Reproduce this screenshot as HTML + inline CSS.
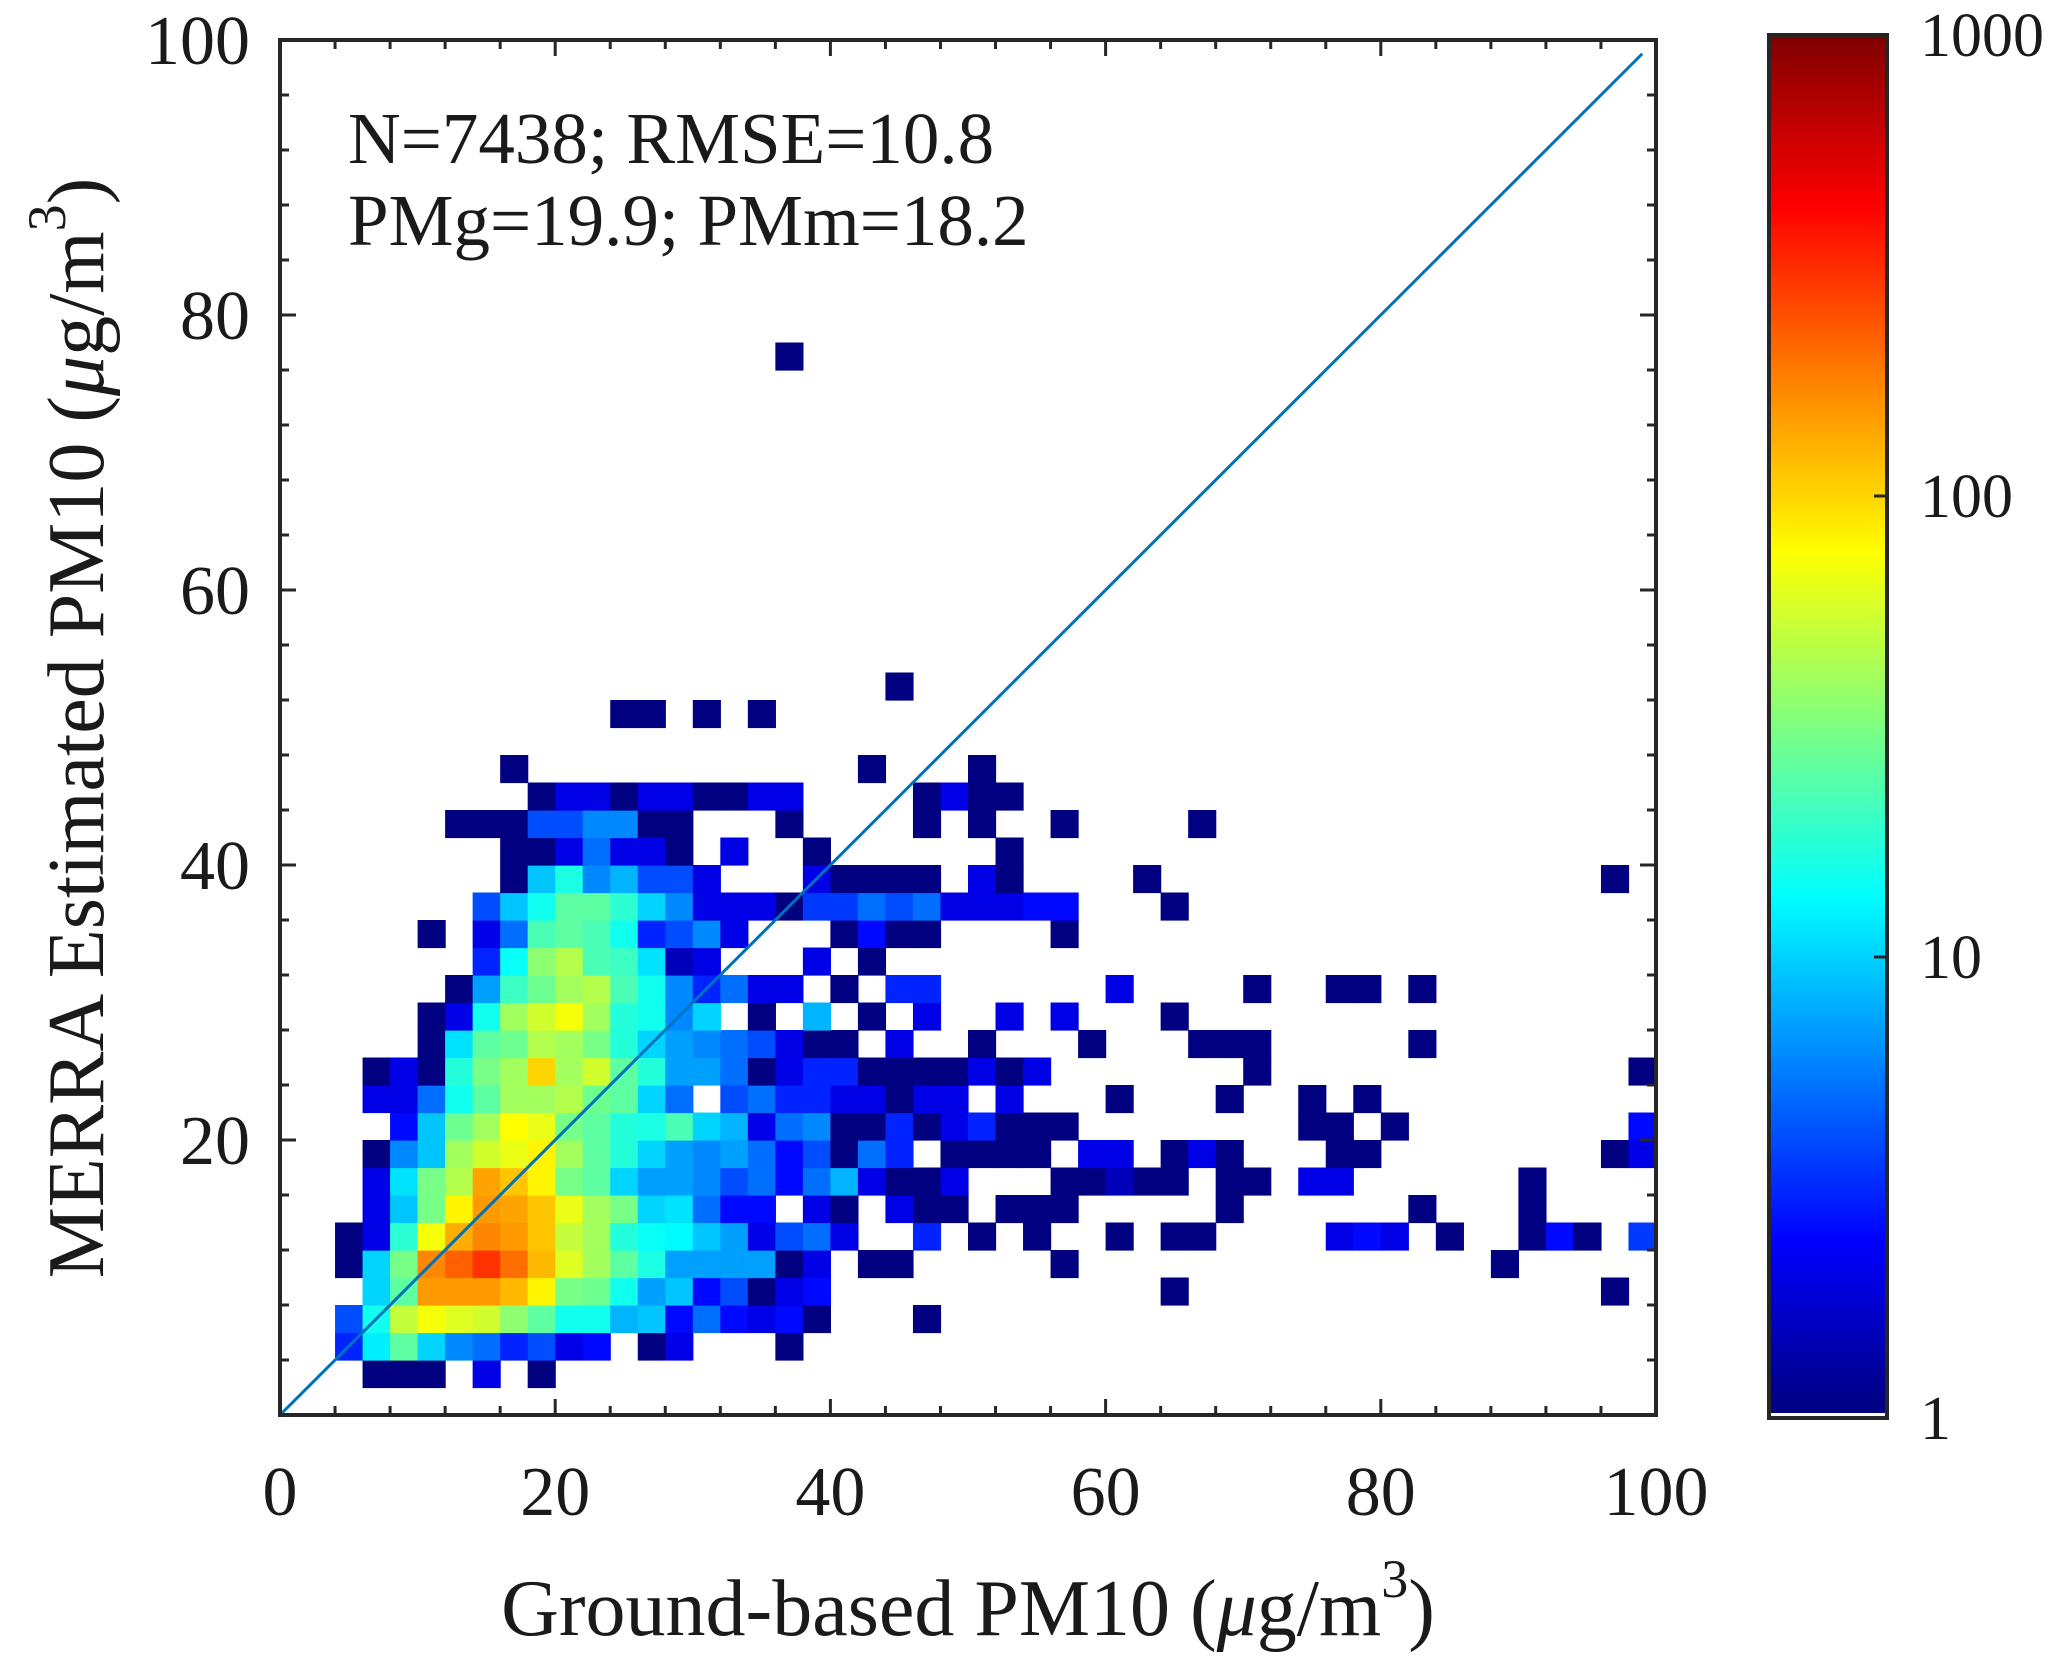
<!DOCTYPE html>
<html><head><meta charset="utf-8"><title>MERRA vs Ground PM10 density</title>
<style>
html,body{margin:0;padding:0;background:#fff;}
svg{display:block;}
text{font-family:"Liberation Serif","Times New Roman",serif;fill:#1a1a1a;}
</style></head>
<body>
<svg id="chart" width="2067" height="1668" viewBox="0 0 2067 1668" xmlns="http://www.w3.org/2000/svg">
<defs><linearGradient id="jetGrad" x1="0" y1="1" x2="0" y2="0"></linearGradient></defs>
<g id="cells"></g>
<g id="axes"></g>
<g id="cbar"></g>
<text x="348" y="163" font-size="73">N=7438; RMSE=10.8</text>
<text x="348" y="245" font-size="73">PMg=19.9; PMm=18.2</text>
<text x="968" y="1635" font-size="80" text-anchor="middle">Ground-based PM10 (<tspan font-style="italic">μ</tspan>g/m<tspan font-size="54" dy="-38">3</tspan><tspan dy="38">)</tspan></text>
<text transform="translate(103,728) rotate(-90)" font-size="80" text-anchor="middle">MERRA Estimated PM10 (<tspan font-style="italic">μ</tspan>g/m<tspan font-size="54" dy="-38">3</tspan><tspan dy="38">)</tspan></text>
</svg>
<script>
const binWidth = 2;
const rowY = [1,2,3,4,5,6,7,8,9,10,11,12,13,14,15,16,17,18,19,20,21,22,23,25,26,38];
const rowCols = [
[3,4,5,7,9],
[2,3,4,5,6,7,8,9,10,11,13,14,18],
[2,3,4,5,6,7,8,9,10,11,12,13,14,15,16,17,18,19,23],
[3,4,5,6,7,8,9,10,11,12,13,14,15,16,17,18,19,32,48],
[2,3,4,5,6,7,8,9,10,11,12,13,14,15,16,17,18,19,21,22,28,44],
[2,3,4,5,6,7,8,9,10,11,12,13,14,15,16,17,18,19,20,23,25,27,30,32,33,38,39,40,42,45,46,47,49],
[3,4,5,6,7,8,9,10,11,12,13,14,15,16,17,19,20,22,23,24,26,27,28,34,41,45],
[3,4,5,6,7,8,9,10,11,12,13,14,15,16,17,18,19,20,21,22,23,24,28,29,30,31,32,34,35,37,38,45],
[3,4,5,6,7,8,9,10,11,12,13,14,15,16,17,18,19,20,21,22,24,25,26,27,29,30,32,33,34,38,39,48,49],
[4,5,6,7,8,9,10,11,12,13,14,15,16,17,18,19,20,21,22,23,24,25,26,27,28,37,38,40,49],
[3,4,5,6,7,8,9,10,11,12,13,14,16,17,18,19,20,21,22,23,24,26,30,34,37,39],
[3,4,5,6,7,8,9,10,11,12,13,14,15,16,17,18,19,20,21,22,23,24,25,26,27,35,49],
[5,6,7,8,9,10,11,12,13,14,15,16,17,18,19,20,22,25,29,33,34,35,41],
[5,6,7,8,9,10,11,12,13,14,15,17,19,21,23,26,28,32],
[6,7,8,9,10,11,12,13,14,15,16,17,18,20,22,23,30,35,38,39,41],
[7,8,9,10,11,12,13,14,15,19,21],
[5,7,8,9,10,11,12,13,14,15,16,20,21,22,23,28],
[7,8,9,10,11,12,13,14,15,16,17,18,19,20,21,22,23,24,25,26,27,28,32],
[8,9,10,11,12,13,14,15,19,20,21,22,23,25,26,31,48],
[8,9,10,11,12,13,14,16,19,26],
[6,7,8,9,10,11,12,13,14,18,23,25,28,33],
[9,10,11,12,13,14,15,16,17,18,23,24,25,26],
[8,21,25],
[12,13,15,17],
[22],
[18]
];
const rowCounts = [
[1,1,1,2,1],
[3,12,25,10,6,5,3,4,2,2.5,1,2,1],
[4,15,50,70,60,55,35,25,15,15,8,9,2.5,5,2.5,2,2.5,1,1],
[10,25,150,150,150,120,80,30,28,15,7,9,2.5,4,1,2,2.5,1,1],
[1,10,30,170,220,300,200,120,60,40,25,16,7,7,7,7,1,2,1,1,1,1],
[1,2,18,70,130,170,150,110,50,40,17,14,13,9,7,2,4,5,2,3,1,1,1,1,1,2,2.5,2,1,1,2.5,1,3.5],
[2,9,30,80,150,140,110,65,40,30,10,11,5,2.5,2.5,2,1,2,1,1,1,1,1,1,1,1],
[2,11,30,45,140,110,80,30,25,10,7,7,6,4,5,2.5,5,8,2,1,1,2,1,1,1.5,1,1,1,1,2,2,1],
[1,6,9,40,55,65,80,40,25,17,10,7,6,7,5,2.5,4,1,5,3,1,1,1,1,2,2,1,2,1,1,1,1,2],
[2.5,9,28,40,75,65,30,25,17,16,22,10,8,2,5,6,1,1,3,1,2,3,1,1,1,1,1,1,2.5],
[2,2,5,15,25,40,40,45,28,25,10,5,4,5,3,3,2,2,1,2,2,2,1,1,1,1],
[1,2,1,17,30,40,100,40,55,25,17,7,7,5,1,2,3,3,1,1,1,1,2,1,2,1,1],
[1,11,25,28,45,40,30,17,10,7,6,5,4,2,1,1,2,1,1,1,1,1,1],
[1,2,15,40,55,70,40,17,15,6,10,1,8,1,2,2,2,1],
[1,7,20,28,40,45,22,15,6,3,5,2,2,1,3,3,2,1,1,1,1],
[3,14,35,45,22,20,11,1.5,2,2,1],
[1,2,5,22,25,22,15,3,4,6,2,1,2.5,1,1,1],
[4,9,15,25,25,18,10,6,2,2,2,1,3.5,3.5,5,4,5,2,2,2,2.5,2.5,1],
[1,9,16,6,8,4,4,2,2,1,1,1,1,2,1,1,1],
[1,1,2,5,2,2,1,2,1,1],
[1,1,1,4,4,6,6,1,1,1,1,1,1,1],
[1,2,2,1,2,2,1,1,2,2,1,2,1,1],
[1,1,1],
[1,1,1,1],
[1],
[1]
];
const xTicks = [0,20,40,60,80,100];
const xTickLabels = ["0","20","40","60","80","100"];
const yTicks = [20,40,60,80,100];
const yTickLabels = ["20","40","60","80","100"];
const cbarTicks = [1,10,100,1000];
const cbarTickLabels = ["1","10","100","1000"];

const NS = "http://www.w3.org/2000/svg";
const PL = 280, PR = 1656, PT = 40, PB = 1415;
const xS = v => PL + v * (PR - PL) / 100;
const yS = v => PB - v * (PB - PT) / 100;
const CB = {l:1769, r:1887, t:35, b:1418};
const cS = v => CB.b - Math.log10(v) / 3 * (CB.b - CB.t);
function jet(t){
  t = Math.max(0, Math.min(1, t));
  const c = x => Math.round(255 * Math.max(0, Math.min(1, x)));
  return `rgb(${c(1.5 - Math.abs(4*t - 3))},${c(1.5 - Math.abs(4*t - 2))},${c(1.5 - Math.abs(4*t - 1))})`;
}
const colorOf = v => jet(Math.log10(v) / 3);
function mk(tag, attrs, parent){
  const e = document.createElementNS(NS, tag);
  for (const k in attrs) e.setAttribute(k, attrs[k]);
  parent.appendChild(e);
  return e;
}
const cells = document.getElementById('cells');
rowY.forEach((j, r) => {
  rowCols[r].forEach((i, k) => {
    const x0 = xS(i*binWidth), x1 = xS((i+1)*binWidth);
    const y0 = yS((j+1)*binWidth), y1 = yS(j*binWidth);
    const el = mk('rect', {x:x0, y:y0, width:x1-x0+0.6, height:y1-y0+0.6, fill:colorOf(rowCounts[r][k])}, cells);
    
    
  });
});
const axes = document.getElementById('axes');
const diag = mk('line', {x1:xS(0), y1:yS(0), x2:xS(99), y2:yS(99), stroke:'#0072BD', 'stroke-width':3}, axes);


for (let v = 0; v <= 100; v += 4) {
  if (v === 0 || v === 100) continue;
  const major = v % 20 === 0, L = major ? 16 : 9;
  const st = {stroke:'#262626','stroke-width':3};
  mk('line', Object.assign({x1:xS(v), x2:xS(v), y1:PB, y2:PB-L}, st), axes);
  mk('line', Object.assign({x1:xS(v), x2:xS(v), y1:PT, y2:PT+L}, st), axes);
  mk('line', Object.assign({y1:yS(v), y2:yS(v), x1:PL, x2:PL+L}, st), axes);
  mk('line', Object.assign({y1:yS(v), y2:yS(v), x1:PR, x2:PR-L}, st), axes);
}
const box = mk('rect', {x:PL, y:PT, width:PR-PL, height:PB-PT, fill:'none', stroke:'#262626', 'stroke-width':4}, axes);


xTicks.forEach((v, k) => {
  const tx = mk('text', {x:xS(v), y:1515, 'font-size':70, 'text-anchor':'middle'}, axes);
  tx.textContent = xTickLabels[k];
  
  
});
yTicks.forEach((v, k) => {
  const ty = mk('text', {x:250, y:yS(v)+24, 'font-size':70, 'text-anchor':'end'}, axes);
  ty.textContent = yTickLabels[k];
  
  
});
const grad = document.getElementById('jetGrad');
for (let s = 0; s <= 40; s++) {
  mk('stop', {offset:(s/40), 'stop-color':jet(s/40)}, grad);
}
const cbar = document.getElementById('cbar');
const cr = mk('rect', {x:CB.l, y:CB.t, width:CB.r-CB.l, height:CB.b-CB.t-5, fill:'url(#jetGrad)'}, cbar);


const cf = mk('rect', {x:CB.l, y:CB.t, width:CB.r-CB.l, height:CB.b-CB.t, fill:'none', stroke:'#262626', 'stroke-width':4}, cbar);


cbarTicks.forEach((v, k) => {
  const y = cS(v);
  if (k > 0 && k < cbarTicks.length - 1) mk('line', {x1:CB.r, x2:CB.r-13, y1:y, y2:y, stroke:'#262626','stroke-width':3}, cbar);
  const t = mk('text', {x:1920, y:y+21, 'font-size':62}, cbar);
  t.textContent = cbarTickLabels[k];
  
  
});
</script>
</body></html>
